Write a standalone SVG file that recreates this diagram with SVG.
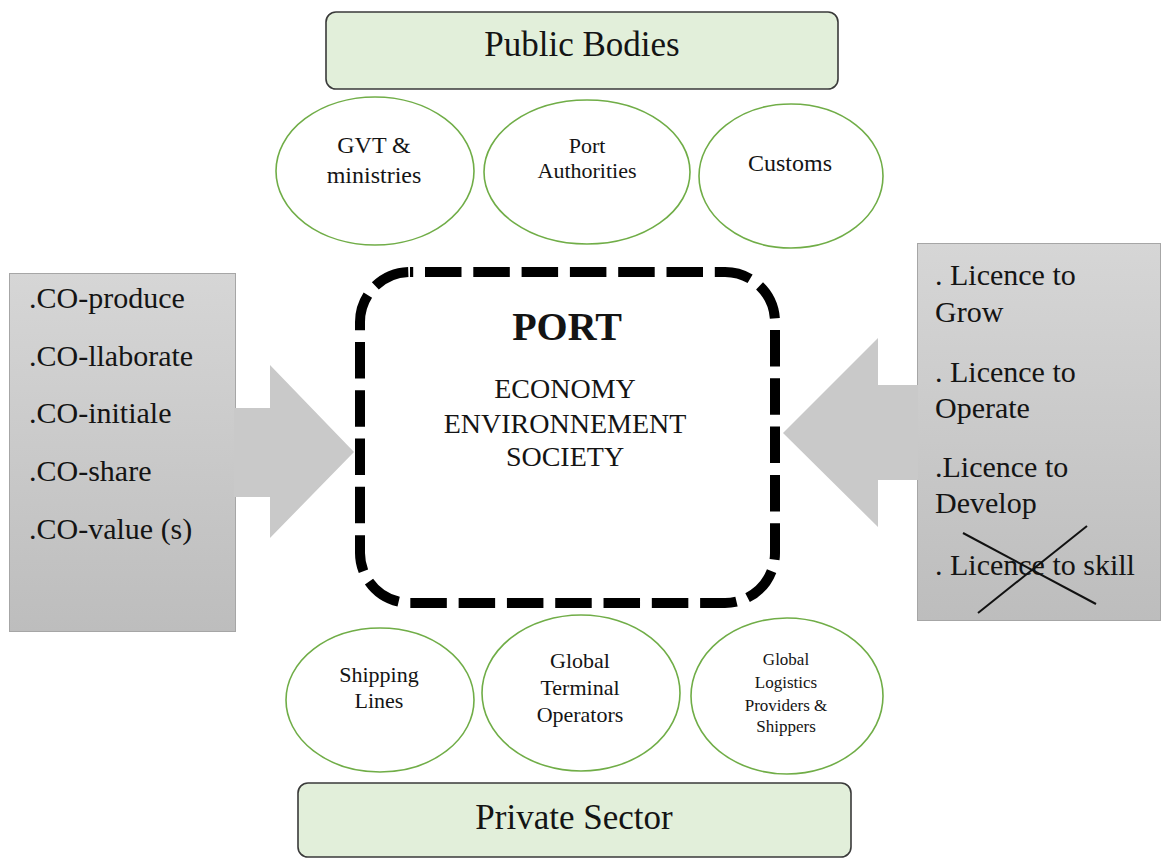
<svg xmlns="http://www.w3.org/2000/svg" width="1162" height="859" viewBox="0 0 1162 859">
  <defs>
    <linearGradient id="grayGrad" x1="0" y1="0" x2="0" y2="1">
      <stop offset="0" stop-color="#d6d6d6"/>
      <stop offset="1" stop-color="#bdbdbd"/>
    </linearGradient>
    <style>
      .t { font-family: "Liberation Serif", "Times New Roman", serif; fill: #141414; }
      .band { fill: #e2efda; stroke: #3a3a3a; stroke-width: 1.6; }
      .actor { fill: #ffffff; stroke: #70ad47; stroke-width: 1.6; }
      .side { fill: url(#grayGrad); stroke: #a6a6a6; stroke-width: 1; }
      .arrow { fill: #c9c9c9; stroke: none; }
      .mid { text-anchor: middle; }
    </style>
  </defs>
  <rect width="1162" height="859" fill="#ffffff"/>

  <!-- side boxes -->
  <g id="co-box">
    <rect class="side" x="9.5" y="273.5" width="226" height="358"/>
    <g class="t" font-size="30">
      <text x="29" y="308">.CO-produce</text>
      <text x="29" y="366">.CO-llaborate</text>
      <text x="29" y="423">.CO-initiale</text>
      <text x="29" y="481">.CO-share</text>
      <text x="29" y="539">.CO-value (s)</text>
    </g>
  </g>

  <g id="licence-box">
    <rect class="side" x="917.5" y="243.5" width="243" height="377"/>
  </g>

  <!-- connectors: block arrows -->
  <g id="connectors">
    <polygon class="arrow" points="234,408 270,408 270,365 354,452 270,538 270,497 234,497"/>
    <polygon class="arrow" points="918,385 878,385 878,338 783,433 878,527 878,480 918,480"/>
  </g>

  <g id="licence-text" class="t" font-size="30">
    <text x="935" y="285">. Licence to</text>
    <text x="935" y="322">Grow</text>
    <text x="935" y="382">. Licence to</text>
    <text x="935" y="418">Operate</text>
    <text x="935" y="477">.Licence to</text>
    <text x="935" y="513">Develop</text>
    <text x="935" y="575">. Licence to skill</text>
    <line x1="963" y1="533" x2="1096" y2="604" stroke="#111" stroke-width="2"/>
    <line x1="1087" y1="526" x2="978" y2="613" stroke="#111" stroke-width="2"/>
  </g>

  <!-- central port -->
  <g id="port">
    <rect x="360" y="272" width="415" height="331" rx="50" ry="50" fill="#ffffff" stroke="#000000" stroke-width="10" stroke-dasharray="36.5 11.8" stroke-dashoffset="33.3"/>
    <text class="t mid" x="567" y="340" font-size="40" font-weight="bold">PORT</text>
    <g class="t mid" font-size="28">
      <text x="565" y="398">ECONOMY</text>
      <text x="565" y="433">ENVIRONNEMENT</text>
      <text x="565" y="466">SOCIETY</text>
    </g>
  </g>

  <!-- public bodies -->
  <g id="public-bodies">
    <rect class="band" x="326" y="12" width="512" height="77" rx="10" ry="10"/>
    <text class="t mid" x="582" y="56" font-size="35">Public Bodies</text>
  </g>
  <g id="gvt">
    <ellipse class="actor" cx="375" cy="171" rx="99" ry="74"/>
    <g class="t mid" font-size="24">
      <text x="374" y="153">GVT &amp;</text>
      <text x="374" y="183">ministries</text>
    </g>
  </g>
  <g id="port-authorities">
    <ellipse class="actor" cx="587" cy="172" rx="103" ry="72"/>
    <g class="t mid" font-size="22">
      <text x="587" y="153">Port</text>
      <text x="587" y="178">Authorities</text>
    </g>
  </g>
  <g id="customs">
    <ellipse class="actor" cx="791" cy="176" rx="92" ry="72"/>
    <text class="t mid" x="790" y="171" font-size="24">Customs</text>
  </g>

  <!-- private sector -->
  <g id="shipping-lines">
    <ellipse class="actor" cx="380" cy="700" rx="94" ry="72"/>
    <g class="t mid" font-size="22">
      <text x="379" y="682">Shipping</text>
      <text x="379" y="708">Lines</text>
    </g>
  </g>
  <g id="terminal-operators">
    <ellipse class="actor" cx="581" cy="693" rx="99" ry="78"/>
    <g class="t mid" font-size="22">
      <text x="580" y="668">Global</text>
      <text x="580" y="695">Terminal</text>
      <text x="580" y="722">Operators</text>
    </g>
  </g>
  <g id="logistics-providers">
    <ellipse class="actor" cx="787" cy="696" rx="96" ry="78"/>
    <g class="t mid" font-size="17">
      <text x="786" y="665">Global</text>
      <text x="786" y="688">Logistics</text>
      <text x="786" y="711">Providers &amp;</text>
      <text x="786" y="732">Shippers</text>
    </g>
  </g>
  <g id="private-sector">
    <rect class="band" x="298" y="783" width="553" height="74" rx="10" ry="10"/>
    <text class="t mid" x="574" y="829" font-size="35">Private Sector</text>
  </g>
</svg>
